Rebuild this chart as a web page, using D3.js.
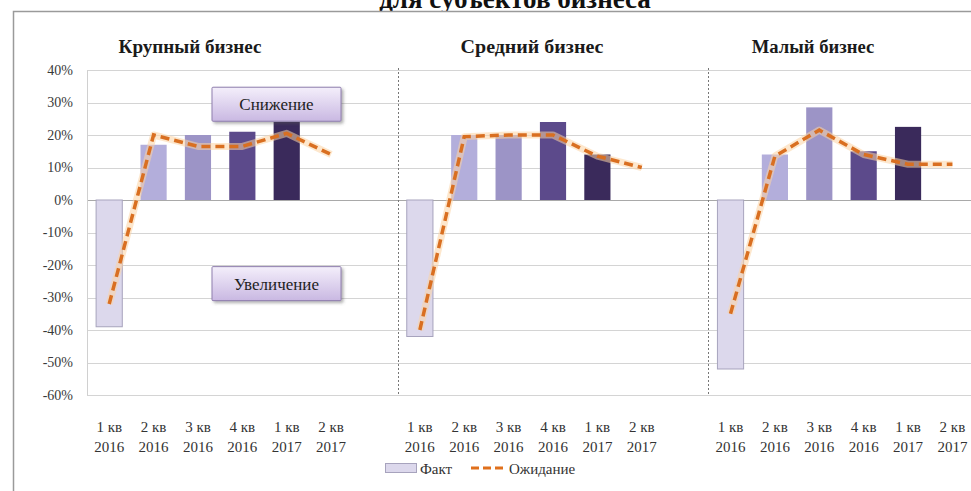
<!DOCTYPE html>
<html>
<head>
<meta charset="utf-8">
<script src="https://cdn.jsdelivr.net/npm/d3@7"></script>
<style>
  html, body { margin: 0; padding: 0; background: #fff; }
  svg { display: block; }
</style>
</head>
<body>
<svg id="chart" width="971" height="491" font-family="'Liberation Serif', 'DejaVu Serif', serif"></svg>
<script>
// Segments, quarters and values (balance of answers, %)
const segments = ["Крупный бизнес", "Средний бизнес", "Малый бизнес"];
const quarterLabels = [["1 кв", "2016"], ["2 кв", "2016"], ["3 кв", "2016"], ["4 кв", "2016"], ["1 кв", "2017"], ["2 кв", "2017"]];
const factLarge  = [-39, 17, 20, 21, 24, null];
const factMedium = [-42, 20, 20, 24, 14, null];
const factSmall  = [-52, 14, 28.5, 15, 22.5, null];
const expLarge   = [-32, 20, 16.5, 16.5, 20.5, 14];
const expMedium  = [-40, 19.5, 20, 20, 13.5, 10];
const expSmall   = [-35, 13.5, 21.5, 14, 11, 11];
const yTicks = [40, 30, 20, 10, 0, -10, -20, -30, -40, -50, -60];
const legendLabels = ["Факт", "Ожидание"];
const noteLabels = ["Снижение", "Увеличение"];
const titleText = "для субъектов бизнеса";

const SERIF = "'Liberation Serif', 'DejaVu Serif', serif";
const facts = [factLarge, factMedium, factSmall];
const expects = [expLarge, expMedium, expSmall];
const barColors = ["#dcd8ec", "#b3aedb", "#9c94c6", "#5c4a8b", "#3a2a5b"];
const panelTitleX = [190, 532, 813];

const svg = d3.select("#chart");
const slotsPerPanel = 7;                 // six quarters + one gap slot
const nSlots = slotsPerPanel * segments.length;
const plotLeft = 87, plotRight = 1019;
const inner = 0.41;

const x = d3.scaleBand()
  .domain(d3.range(nSlots))
  .range([plotLeft, plotRight])
  .paddingInner(inner)
  .paddingOuter(inner / 2);
const y = d3.scaleLinear().domain([-60, 40]).range([395, 70]);

const defs = svg.append("defs");
const grad = defs.append("linearGradient").attr("id", "noteFill")
  .attr("x1", 0).attr("y1", 0).attr("x2", 0).attr("y2", 1);
grad.append("stop").attr("offset", "0%").attr("stop-color", "#f4effb");
grad.append("stop").attr("offset", "100%").attr("stop-color", "#c9b8e2");
const shadow = defs.append("filter").attr("id", "noteShadow")
  .attr("x", "-10%").attr("y", "-20%").attr("width", "130%").attr("height", "160%");
shadow.append("feDropShadow").attr("dx", 2).attr("dy", 2).attr("stdDeviation", 1.5)
  .attr("flood-color", "#555").attr("flood-opacity", 0.45);

// main title (runs above the frame)
svg.append("text")
  .attr("x", 515).attr("y", 8)
  .attr("text-anchor", "middle")
  .attr("font-family", SERIF)
  .attr("font-size", 27).attr("font-weight", "bold").attr("fill", "#111")
  .text(titleText);

// chart frame
svg.append("rect")
  .attr("x", 13.5).attr("y", 11.5).attr("width", 1000).attr("height", 520)
  .attr("fill", "#fff").attr("stroke", "#9a9a9a").attr("stroke-width", 1.5);

// gridlines
svg.append("g").selectAll("line").data(yTicks).join("line")
  .attr("x1", plotLeft).attr("x2", plotRight)
  .attr("y1", d => Math.round(y(d)) + 0.5).attr("y2", d => Math.round(y(d)) + 0.5)
  .attr("stroke", d => d === 0 ? "#a9a9a9" : "#d4d4d4")
  .attr("stroke-width", 1);

// y axis
const yAxis = d3.axisLeft(y).tickValues(yTicks).tickSize(0).tickPadding(14)
  .tickFormat(d => d + "%");
const gy = svg.append("g").attr("transform", `translate(${plotLeft},0)`).call(yAxis)
  .attr("font-family", SERIF).attr("font-size", 14);
gy.select(".domain").attr("stroke", "#d0d0d0");
gy.selectAll("text").attr("fill", "#3a3a3a");

// panel separators
[1, 2].forEach(p => {
  const sx = Math.round(plotLeft + p * slotsPerPanel * x.step()) + 0.5;
  svg.append("line")
    .attr("x1", sx).attr("x2", sx).attr("y1", y(40) - 2).attr("y2", y(-60))
    .attr("stroke", "#777").attr("stroke-width", 1).attr("stroke-dasharray", "2,2");
});

const line = d3.line()
  .defined(d => d.v != null)
  .x(d => x(d.slot) + x.bandwidth() / 2)
  .y(d => y(d.v));

segments.forEach((seg, p) => {
  const base = p * slotsPerPanel;
  const g = svg.append("g");

  // panel title
  g.append("text")
    .attr("x", panelTitleX[p]).attr("y", 53)
    .attr("text-anchor", "middle")
    .attr("font-family", SERIF)
    .attr("font-size", 18).attr("font-weight", "bold").attr("fill", "#1a1a1a")
    .attr("textLength", seg.length * 10.2).attr("lengthAdjust", "spacingAndGlyphs")
    .text(seg);

  // fact bars
  const bars = facts[p].map((v, i) => ({ slot: base + i, v, i })).filter(d => d.v != null);
  g.selectAll("rect.bar").data(bars).join("rect")
    .attr("class", "bar")
    .attr("x", d => x(d.slot))
    .attr("width", x.bandwidth())
    .attr("y", d => y(Math.max(0, d.v)))
    .attr("height", d => Math.abs(y(d.v) - y(0)))
    .attr("fill", d => barColors[d.i])
    .attr("stroke", d => d.i === 0 ? "#a7a3bd" : "none")
    .attr("stroke-width", 1);

  // expectation line with soft halo
  const pts = expects[p].map((v, i) => ({ slot: base + i, v }));
  g.append("path").datum(pts)
    .attr("d", line).attr("fill", "none")
    .attr("stroke", "#fbd3a4").attr("stroke-width", 7).attr("stroke-opacity", 0.55)
    .attr("stroke-linejoin", "round");
  g.append("path").datum(pts)
    .attr("d", line).attr("fill", "none")
    .attr("stroke", "#d96f21").attr("stroke-width", 3.5)
    .attr("stroke-dasharray", "9,5");

  // category labels
  const lab = g.selectAll("g.lab").data(quarterLabels).join("g")
    .attr("class", "lab")
    .attr("transform", (d, i) => `translate(${x(base + i) + x.bandwidth() / 2},0)`);
  lab.append("text").attr("y", 432).attr("text-anchor", "middle")
    .attr("font-family", SERIF)
    .attr("font-size", 15).attr("fill", "#333").text(d => d[0]);
  lab.append("text").attr("y", 452).attr("text-anchor", "middle")
    .attr("font-family", SERIF)
    .attr("font-size", 15).attr("fill", "#333").text(d => d[1]);
});

// notes on the first panel
const notes = [{ t: noteLabels[0], v: 34.7 }, { t: noteLabels[1], v: -20.5 }];
const ng = svg.append("g").selectAll("g").data(notes).join("g")
  .attr("transform", d => `translate(212,${y(d.v)})`);
ng.append("rect")
  .attr("width", 129).attr("height", 34).attr("rx", 1)
  .attr("fill", "url(#noteFill)").attr("stroke", "#8f7eae").attr("stroke-width", 1)
  .attr("filter", "url(#noteShadow)");
ng.append("text")
  .attr("x", 64.5).attr("y", 23).attr("text-anchor", "middle")
  .attr("font-family", SERIF)
  .attr("font-size", 17).attr("fill", "#222")
  .text(d => d.t);

// legend
const lg = svg.append("g").attr("transform", "translate(385,468)");
lg.append("rect").attr("x", 0.5).attr("y", -4.5).attr("width", 31).attr("height", 9)
  .attr("fill", barColors[0]).attr("stroke", "#a7a3bd");
lg.append("text").attr("x", 35).attr("y", 6).attr("font-family", SERIF)
  .attr("font-size", 15).attr("fill", "#333").text(legendLabels[0]);
lg.append("line").attr("x1", 86).attr("x2", 121).attr("y1", 0).attr("y2", 0)
  .attr("stroke", "#e0701c").attr("stroke-width", 3).attr("stroke-dasharray", "8,4");
lg.append("text").attr("x", 124).attr("y", 6).attr("font-family", SERIF)
  .attr("font-size", 15).attr("fill", "#333").text(legendLabels[1]);
</script>
</body>
</html>
